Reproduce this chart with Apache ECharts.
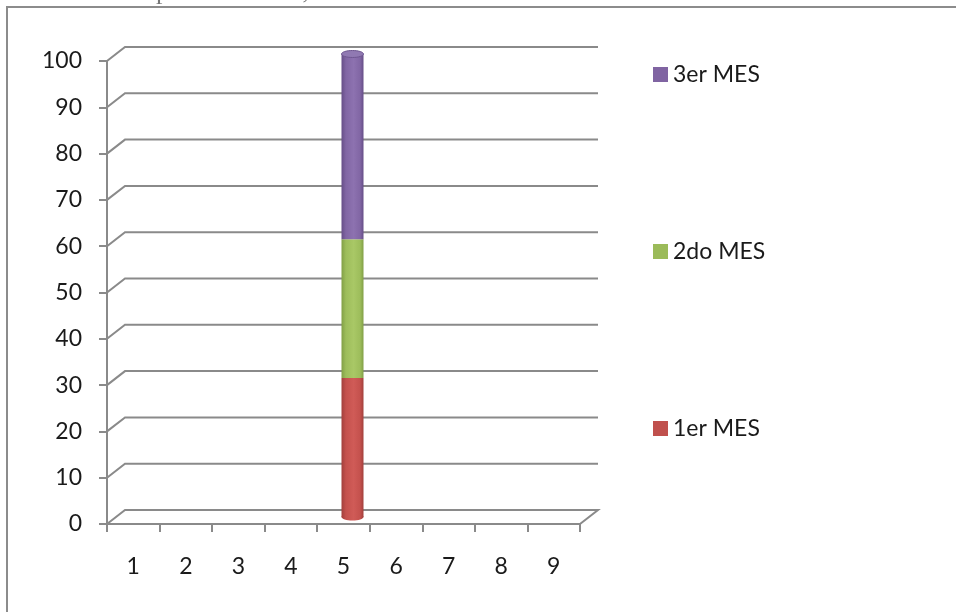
<!DOCTYPE html>
<html>
<head>
<meta charset="utf-8">
<script src="https://cdn.jsdelivr.net/npm/echarts@6/dist/echarts.min.js"></script>
<style>
html,body{margin:0;padding:0;background:#fff;}
#chart{width:956px;height:612px;}
</style>
</head>
<body>
<div id="chart"></div>
<script>
// ---- data ----
const categories = ['1','2','3','4','5','6','7','8','9'];
const mes1 = [0,0,0,0,30,0,0,0,0];
const mes2 = [0,0,0,0,30,0,0,0,0];
const mes3 = [0,0,0,0,40,0,0,0,0];
const yTicks = [0,10,20,30,40,50,60,70,80,90,100];
const seriesNames = ['1er MES','2do MES','3er MES'];
const topText = 'durante el tiempo de 3 meses, al cabo del cual se observa el total de cada resultado';

// ---- styling helpers ----
const baseColors = ['#C0504D','#9BBB59','#8064A2'];
function cyl(c0, c1, c2) {
  return {type:'linear', x:0, y:0, x2:1, y2:0, colorStops:[
    {offset:0, color:c0},{offset:0.2, color:c1},{offset:0.55, color:c2},{offset:0.85, color:c1},{offset:1, color:c0}]};
}
const grads = [
  cyl('#a23f3c','#c4514d','#d05b57'),
  cyl('#819f46','#9dbd5b','#a9c866'),
  cyl('#664e87','#8166a4','#8d72b0')
];
const totals = categories.map((c,i)=>mes1[i]+mes2[i]+mes3[i]);
const capData = [];
totals.forEach((t,i)=>{ if (t>0) capData.push([i, t]); });

const gridColor = '#8a8a8a';
const DX = 18, DY = 14;
const font = 'Lato';

const chart = echarts.init(document.getElementById('chart'));
chart.setOption({
  animation:false,
  backgroundColor:'#fff',
  graphic:[
    {type:'rect', shape:{x:7, y:7, width:1000, height:700}, style:{fill:'none', stroke:'#8c8c8c', lineWidth:2}, z:-1},
    {type:'text', x:0, y:-21, style:{text:topText, font:'26px "Liberation Serif"', fill:'#777'}}
  ],
  legend:[
    {left:648, top:58, orient:'vertical', itemWidth:15, itemHeight:15, icon:'rect',
     textStyle:{fontFamily:font, fontSize:23, color:'#1a1a1a'}, data:[{name:seriesNames[2], itemStyle:{color:baseColors[2]}}]},
    {left:648, top:235, orient:'vertical', itemWidth:15, itemHeight:15, icon:'rect',
     textStyle:{fontFamily:font, fontSize:23, color:'#1a1a1a'}, data:[{name:seriesNames[1], itemStyle:{color:baseColors[1]}}]},
    {left:648, top:412, orient:'vertical', itemWidth:15, itemHeight:15, icon:'rect',
     textStyle:{fontFamily:font, fontSize:23, color:'#1a1a1a'}, data:[{name:seriesNames[0], itemStyle:{color:baseColors[0]}}]}
  ],
  grid:[
    {left:107, right:376, top:61, bottom:88},
    {left:107+DX/2, right:376-DX/2, top:61-DY/2, bottom:88+DY/2}
  ],
  xAxis:[
    {type:'category', gridIndex:0, data:categories, boundaryGap:true,
     axisLine:{lineStyle:{color:gridColor, width:2}},
     axisTick:{show:true, length:8, lineStyle:{color:gridColor, width:2}},
     axisLabel:{fontFamily:font, fontSize:23, color:'#1a1a1a', margin:31},
     splitLine:{show:false}},
    {type:'category', gridIndex:1, data:categories, show:false}
  ],
  yAxis:[
    {type:'value', gridIndex:0, min:0, max:100, interval:10,
     axisLine:{show:true, lineStyle:{color:gridColor, width:2}},
     axisTick:{show:true, length:8, lineStyle:{color:gridColor, width:2}},
     axisLabel:{fontFamily:font, fontSize:23, color:'#1a1a1a', margin:25},
     splitLine:{show:false}},
    {type:'value', gridIndex:1, min:0, max:100, interval:10, show:false}
  ],
  series:[
    {type:'custom', xAxisIndex:0, yAxisIndex:0, silent:true, z:1,
     data:yTicks.map(v=>[0, v]),
     renderItem:function(params, api){
       const v = api.value(1);
       const p = api.coord([0, v]);
       const bw = api.size([1,0])[0];
       const left = p[0] - bw/2;
       const right = left + categories.length*bw;
       const y = p[1];
       const pts = [[left,y],[left+DX,y-DY],[right+DX,y-DY]];
       if (v === 0) pts.push([right,y]);
       return {type:'polyline', shape:{points:pts}, style:{stroke:gridColor, lineWidth:2, fill:null}};
     }},
    {name:seriesNames[0], type:'bar', xAxisIndex:1, yAxisIndex:1, stack:'s', barWidth:22, z:3,
     itemStyle:{color:grads[0]}, data:mes1},
    {name:seriesNames[1], type:'bar', xAxisIndex:1, yAxisIndex:1, stack:'s', barWidth:22, z:3,
     itemStyle:{color:grads[1]}, data:mes2},
    {name:seriesNames[2], type:'bar', xAxisIndex:1, yAxisIndex:1, stack:'s', barWidth:22, z:3,
     itemStyle:{color:grads[2]}, data:mes3},
    {type:'custom', xAxisIndex:1, yAxisIndex:1, silent:true, z:4,
     data:capData,
     renderItem:function(params, api){
       const i = api.value(0), t = api.value(1);
       const pb = api.coord([i, 0]);
       const pt = api.coord([i, t]);
       return {type:'group', children:[
         {type:'ellipse', shape:{cx:pb[0], cy:pb[1], rx:11, ry:3.5}, style:{fill:grads[0]}},
         {type:'ellipse', shape:{cx:pt[0], cy:pt[1], rx:11, ry:3.5}, style:{fill:'#9079b2', stroke:'#6e5690', lineWidth:1}}
       ]};
     }}
  ]
});
</script>
</body>
</html>
